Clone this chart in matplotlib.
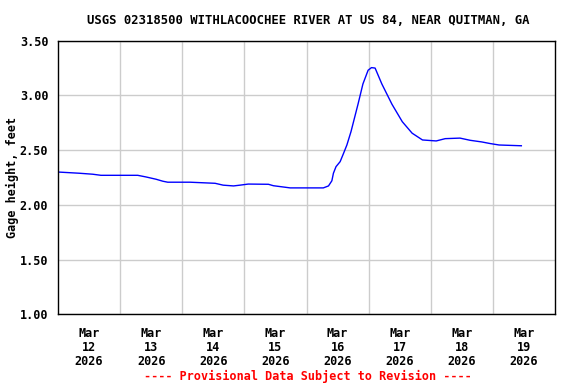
import matplotlib.pyplot as plt
import numpy as np

# hours since Mar 12 2026 00:00, gage height in feet
hours = [0, 8.2, 13.4, 16.6, 30.8, 34.0, 37.9, 40.5, 42.4, 51.0, 60.7, 63.8,
         67.8, 70.3, 73.5, 81.3, 83.2, 85.8, 89.7, 102.5, 104.5, 105.8, 106.4,
         107.4, 109.0, 110.3, 111.6, 113.2, 115.9, 117.8, 119.8, 121.1, 122.5,
         125.1, 129.0, 133.0, 136.8, 140.8, 146.1, 149.6, 155.3, 159.2, 163.7,
         167.0, 170.4, 179.0]
gage = [2.30, 2.289, 2.28, 2.27, 2.27, 2.255, 2.234, 2.216, 2.207, 2.207, 2.197, 2.18,
        2.173, 2.18, 2.19, 2.188, 2.175, 2.167, 2.155, 2.155, 2.173, 2.22, 2.289,
        2.349, 2.395, 2.47, 2.547, 2.67, 2.92, 3.105, 3.23, 3.254, 3.25,
        3.105, 2.92, 2.76, 2.655, 2.593, 2.584, 2.605, 2.61, 2.59, 2.575,
        2.56, 2.547, 2.54]

day_labels = ['Mar\n12\n2026', 'Mar\n13\n2026', 'Mar\n14\n2026', 'Mar\n15\n2026',
              'Mar\n16\n2026', 'Mar\n17\n2026', 'Mar\n18\n2026', 'Mar\n19\n2026']
y_ticks = [1.00, 1.50, 2.00, 2.50, 3.00, 3.50]

font = dict(family='DejaVu Sans Mono', weight='bold')

fig = plt.figure(figsize=(5.76, 3.84), dpi=100)
ax = fig.add_axes([58 / 576, 1 - 314.3 / 384, 497 / 576, 273.6 / 384])

ax.plot(hours, gage, color='#0000ff', linewidth=1.0)

ax.set_xlim(0, 192)
ax.set_ylim(1.0, 3.5)

ax.set_xticks(np.arange(24, 192, 24))
ax.set_xticklabels([])
ax.set_xticks(np.arange(12, 192, 24), minor=True)
ax.set_xticklabels(day_labels, minor=True, fontsize=8.5, linespacing=1.1, **font)
ax.tick_params(axis='x', which='both', length=0)
ax.tick_params(axis='x', which='minor', pad=9)

ax.set_yticks(y_ticks)
ax.set_yticklabels([f'{v:.2f}' for v in y_ticks], fontsize=8.5, **font)
ax.tick_params(axis='y', length=0, pad=7)

ax.grid(True, which='major', color='#cccccc', linewidth=1.0)
ax.set_axisbelow(True)
for spine in ax.spines.values():
    spine.set_linewidth(1.0)
    spine.set_color('black')

ax.set_ylabel('Gage height, feet', fontsize=8.5, **font)
ax.yaxis.set_label_coords(-39 / 497, 0.5)

fig.text(308 / 576, 1 - 20 / 384, 'USGS 02318500 WITHLACOOCHEE RIVER AT US 84, NEAR QUITMAN, GA',
         ha='center', va='center', fontsize=8.8, **font)
fig.text(308 / 576, 1 - 376 / 384, '---- Provisional Data Subject to Revision ----',
         ha='center', va='center', fontsize=8.5, color='#ff0000', **font)

fig.savefig('out.png', dpi=100)
